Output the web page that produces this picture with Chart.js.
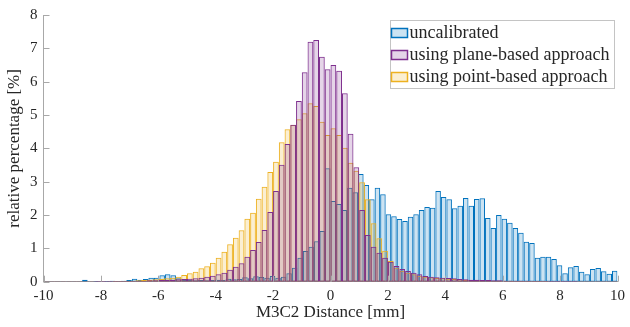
<!DOCTYPE html>
<html>
<head>
<meta charset="utf-8">
<script src="https://cdn.jsdelivr.net/npm/chart.js@4/dist/chart.umd.min.js"></script>
<style>
html,body{margin:0;padding:0;background:#ffffff;}
#wrap{width:630px;height:327px;}
</style>
</head>
<body>
<div id="wrap"><canvas id="c" width="630" height="327"></canvas></div>
<script>
// ---------- data ----------
const seriesLabels = ['uncalibrated', 'using plane-based approach', 'using point-based approach'];
const xRange = [-10, 10];
const xTickLabels = [-10, -8, -6, -4, -2, 0, 2, 4, 6, 8, 10];
const yTickLabels = [0, 1, 2, 3, 4, 5, 6, 7, 8];
const xTitle = 'M3C2 Distance [mm]';
const yTitle = 'relative percentage [%]';

// uncalibrated: 104 bins over [-10, 10]
const uncalibratedVals = [
  0.01,0.01,0.01,0.01,0.01,0.01,0.01,0.06,0.01,0.02,
  0.01,0.02,0.03,0.02,0.03,0.05,0.09,0.06,0.08,0.12,
  0.12,0.19,0.22,0.19,0.10,0.06,0.05,0.04,0.05,0.04,
  0.05,0.06,0.05,0.09,0.07,0.08,0.13,0.10,0.16,0.14,
  0.12,0.17,0.12,0.15,0.25,0.42,0.72,0.92,1.05,1.21,
  1.52,3.40,2.42,2.33,2.15,2.82,2.68,3.23,2.90,2.47,
  2.82,2.62,2.02,1.96,1.88,1.82,1.95,2.02,2.15,2.24,
  2.22,2.72,2.54,2.47,2.20,2.28,2.51,2.28,2.48,2.50,
  1.91,1.61,2.00,1.89,1.77,1.61,1.47,1.20,1.16,0.72,
  0.75,0.75,0.68,0.49,0.25,0.43,0.47,0.30,0.22,0.38,
  0.41,0.31,0.24,0.33
];

// plane-based: 100 bins over [-10, 10]
const planeVals = [
  0.01,0.01,0.01,0.01,0.01,0.01,0.01,0.01,0.01,0.02,
  0.02,0.02,0.02,0.02,0.02,0.02,0.03,0.03,0.04,0.04,
  0.05,0.05,0.06,0.07,0.08,0.09,0.10,0.12,0.15,0.18,
  0.22,0.27,0.36,0.45,0.55,0.75,0.95,1.19,1.55,2.09,
  2.72,3.51,4.13,4.71,5.42,6.28,7.20,7.25,6.75,6.37,
  6.50,6.33,5.65,4.44,3.43,2.15,1.40,1.05,0.87,0.72,
  0.60,0.47,0.38,0.32,0.27,0.22,0.17,0.15,0.13,0.12,
  0.11,0.10,0.08,0.07,0.06,0.06,0.05,0.05,0.04,0.04,
  0.03,0.03,0.03,0.03,0.03,0.02,0.02,0.02,0.02,0.02,
  0.02,0.02,0.02,0.01,0.01,0.01,0.01,0.01,0.01,0.01
];

// point-based: 100 bins over [-10, 10]
const pointVals = [
  0.01,0.01,0.01,0.01,0.01,0.01,0.01,0.01,0.01,0.01,
  0.01,0.01,0.02,0.02,0.03,0.03,0.04,0.05,0.06,0.07,
  0.08,0.10,0.12,0.15,0.20,0.25,0.30,0.40,0.46,0.57,
  0.72,0.90,1.12,1.32,1.54,1.89,2.07,2.49,2.85,3.29,
  3.60,4.18,4.57,4.70,4.87,5.05,5.35,5.27,4.80,4.40,
  4.60,4.40,4.02,3.57,3.33,2.98,2.47,1.75,1.30,0.93,
  0.62,0.42,0.33,0.27,0.22,0.18,0.15,0.13,0.11,0.10,
  0.09,0.08,0.07,0.06,0.05,0.05,0.04,0.04,0.03,0.03,
  0.03,0.03,0.02,0.02,0.02,0.02,0.02,0.02,0.01,0.01,
  0.01,0.01,0.01,0.01,0.01,0.01,0.01,0.01,0.01,0.01
];

// bin centre labels (category axes), derived from bin counts over the range
function binCenters(n) {
  const w = (xRange[1] - xRange[0]) / n;
  return Array.from({length: n}, (_, k) => (xRange[0] + (k + 0.5) * w).toFixed(4));
}
const uncalibratedBins = binCenters(uncalibratedVals.length);
const calibratedBins = binCenters(planeVals.length);

// ---------- styles ----------
const edgeColors = ['#0072BD', '#7E2F8E', '#EDB120'];
const faceColors = ['rgba(0,114,189,0.2)', 'rgba(126,47,142,0.2)', 'rgba(237,177,32,0.2)'];
const axisColor = '#a8a8a8';
const textColor = '#262626';
const serif = "'Liberation Serif', 'Times New Roman', serif";

const innerTicks = {
  id: 'innerTicks',
  afterDatasetsDraw(chart) {
    const ctx = chart.ctx, xs = chart.scales.x, ys = chart.scales.y;
    const len = 6;
    ctx.save();
    ctx.strokeStyle = axisColor;
    ctx.lineWidth = 1;
    ctx.beginPath();
    xs.ticks.forEach(t => {
      const px = Math.round(xs.getPixelForValue(t.value)) + 0.5;
      ctx.moveTo(px, ys.bottom);
      ctx.lineTo(px, ys.bottom - len);
    });
    ys.ticks.forEach(t => {
      const py = Math.round(ys.getPixelForValue(t.value)) + 0.5;
      ctx.moveTo(xs.left, py);
      ctx.lineTo(xs.left + len, py);
    });
    ctx.stroke();
    ctx.restore();
  }
};

const boxLegend = {
  id: 'boxLegend',
  afterDraw(chart) {
    const ctx = chart.ctx, area = chart.chartArea;
    const ds = chart.data.datasets;
    ctx.save();
    ctx.font = '18px ' + serif;
    const w = 224, rowH = 22, swW = 16, swH = 9;
    const h = ds.length * rowH + 2;
    const right = area.right - 4;
    const top = area.top + 4.5;
    const left = right - w;
    ctx.fillStyle = '#ffffff';
    ctx.fillRect(left, top, w, h);
    ctx.strokeStyle = '#c4c4c4';
    ctx.lineWidth = 1;
    ctx.strokeRect(Math.round(left) + 0.5, Math.round(top) + 0.5, w, Math.round(h));
    ds.forEach((d, i) => {
      const cy = top + 2 + rowH * (i + 0.5) + 0.5;
      const sx = left + 2;
      ctx.fillStyle = d.backgroundColor;
      ctx.fillRect(sx, cy - swH / 2, swW, swH);
      ctx.strokeStyle = d.borderColor;
      ctx.lineWidth = 1.5;
      ctx.strokeRect(sx, cy - swH / 2, swW, swH);
      ctx.fillStyle = textColor;
      ctx.textBaseline = 'middle';
      ctx.textAlign = 'left';
      ctx.fillText(d.label, left + 20, cy, w - 22);
    });
    ctx.restore();
  }
};

new Chart(document.getElementById('c'), {
  type: 'bar',
  data: {
    datasets: [
      { label: seriesLabels[0], data: uncalibratedVals, xAxisID: 'xb', yAxisID: 'y', order: 3,
        backgroundColor: faceColors[0], borderColor: edgeColors[0] },
      { label: seriesLabels[1], data: planeVals, xAxisID: 'xp', yAxisID: 'y', order: 1,
        backgroundColor: faceColors[1], borderColor: edgeColors[1] },
      { label: seriesLabels[2], data: pointVals, xAxisID: 'xp', yAxisID: 'y', order: 2,
        backgroundColor: faceColors[2], borderColor: edgeColors[2] }
    ]
  },
  options: {
    responsive: false,
    animation: false,
    devicePixelRatio: 1,
    datasets: {
      bar: { grouped: false, barPercentage: 1, categoryPercentage: 1, borderWidth: 1, borderSkipped: false, inflateAmount: 0 }
    },
    layout: { padding: { top: 15, right: 8.5, left: 0, bottom: 0 } },
    plugins: { legend: { display: false }, tooltip: { enabled: false } },
    scales: {
      xb: { type: 'category', axis: 'x', labels: uncalibratedBins, display: false, offset: true },
      xp: { type: 'category', axis: 'x', labels: calibratedBins, display: false, offset: true },
      x: {
        type: 'linear', axis: 'x', position: 'bottom', min: xRange[0], max: xRange[1], offset: false,
        afterBuildTicks(s) { s.ticks = xTickLabels.map(v => ({ value: v })); },
        ticks: { color: textColor, font: { family: serif, size: 15 }, padding: 5, maxRotation: 0, autoSkip: false },
        grid: { display: false, drawTicks: false, offset: false },
        border: { display: true, color: axisColor, width: 1 },
        title: { display: true, text: xTitle, color: textColor, font: { family: serif, size: 17 }, padding: { top: 0, bottom: 4 } },
        afterFit(s) { s.height = 45.3; }
      },
      y: {
        type: 'linear', position: 'left', min: 0, max: 8,
        afterBuildTicks(s) { s.ticks = yTickLabels.map(v => ({ value: v })); },
        ticks: { color: textColor, font: { family: serif, size: 15 }, padding: 6 },
        grid: { display: false, drawTicks: false },
        border: { display: true, color: axisColor, width: 1 },
        title: { display: true, text: yTitle, color: textColor, font: { family: serif, size: 17 }, padding: { top: 4, bottom: 0 } },
        afterFit(s) { s.width = 43.5; }
      }
    }
  },
  plugins: [innerTicks, boxLegend]
});
</script>
</body>
</html>
